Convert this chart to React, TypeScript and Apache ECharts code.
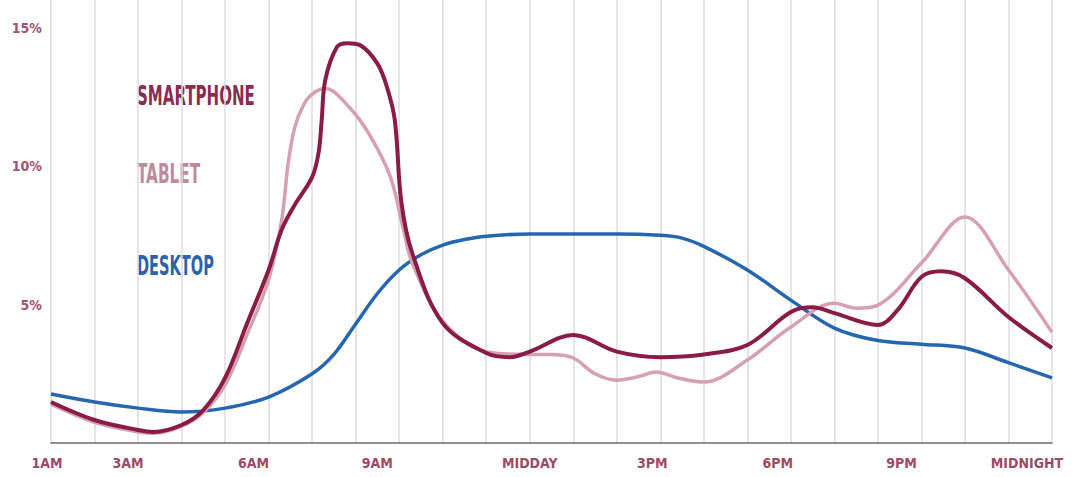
import React, { useEffect, useRef } from "react";
import * as echarts from "echarts";

const FONT = "'DejaVu Sans Condensed', 'Liberation Sans Narrow', sans-serif";

const xTickLabels: Record<number, string> = {
  1: "1AM", 3: "3AM", 6: "6AM", 9: "9AM", 12: "MIDDAY",
  15: "3PM", 18: "6PM", 21: "9PM", 24: "MIDNIGHT",
};
// horizontal nudge (px) of each hour label relative to its grid line
const xLabelShift: Record<number, number> = {
  1: -4, 3: -10, 6: -15, 9: -22, 12: 0, 15: -8, 18: -13, 21: -20, 24: -25,
};
const yTickLabels: Record<number, string> = { 5: "5%", 10: "10%", 15: "15%" };

const smartphoneHours = [1, 2, 3, 3.35, 4, 4.5, 5, 5.5, 6, 6.3, 6.6, 7.0, 7.15, 7.22, 7.3, 7.57, 7.8, 8.1, 8.5, 8.72, 8.9, 9.05, 9.3, 10, 11, 11.55, 12, 13, 14, 15, 16, 17, 18, 18.5, 19, 20, 20.45, 21, 21.45, 22, 23, 24];
const smartphoneValues = [1.48, 0.83, 0.47, 0.4, 0.65, 1.19, 2.35, 4.3, 6.25, 7.7, 8.6, 9.6, 10.5, 11.66, 13.1, 14.3, 14.44, 14.37, 13.7, 12.85, 11.66, 8.7, 6.86, 4.33, 3.25, 3.1, 3.3, 3.9, 3.3, 3.1, 3.2, 3.54, 4.73, 4.9, 4.69, 4.26, 4.8, 6.0, 6.2, 5.95, 4.55, 3.43];

const tabletHours = [1, 2, 3, 3.35, 4, 4.5, 5, 5.5, 6, 6.3, 6.45, 6.6, 6.8, 7.0, 7.3, 7.87, 8.33, 8.8, 9.1, 9.3, 10, 11, 12, 12.5, 13, 13.5, 14, 14.5, 14.9, 15.4, 16, 17, 18, 19, 19.5, 20, 21, 22, 23, 24];
const tabletValues = [1.4, 0.75, 0.4, 0.35, 0.6, 1.1, 2.1, 3.9, 5.9, 8.05, 10.1, 11.4, 12.2, 12.6, 12.8, 12.1, 11.1, 9.6, 7.7, 6.5, 4.4, 3.3, 3.2, 3.2, 3.07, 2.5, 2.27, 2.4, 2.56, 2.35, 2.2, 3.0, 4.19, 5.05, 4.87, 4.98, 6.5, 8.16, 6.25, 4.0];

const desktopHours = [1, 2, 3, 4, 5, 6, 7, 7.5, 8, 8.5, 9, 9.5, 10, 10.5, 11, 12, 13, 14, 15, 15.5, 16, 17, 18, 19, 20, 21, 22, 23, 24];
const desktopValues = [1.77, 1.48, 1.26, 1.12, 1.26, 1.66, 2.5, 3.2, 4.3, 5.4, 6.25, 6.8, 7.15, 7.35, 7.47, 7.55, 7.55, 7.55, 7.5, 7.4, 7.1, 6.25, 5.16, 4.15, 3.7, 3.57, 3.43, 2.9, 2.35];

const legendNames = ["SMARTPHONE", "TABLET", "DESKTOP"];

const zip = (xs: number[], ys: number[]) => xs.map((x, i) => [x, ys[i]]);

export default function App() {
  const ref = useRef<HTMLDivElement>(null);
  useEffect(() => {
    if (!ref.current) return;
    const chart = echarts.init(ref.current, undefined, { renderer: "svg" });
    const legendFont = `bold 27px ${FONT}`;
    const labelStyle = {
      color: "#9c4a66",
      fontFamily: FONT,
      fontWeight: "bold",
      fontSize: 14,
    };
    const rich: Record<string, any> = {};
    Object.keys(xLabelShift).forEach((k) => {
      const s = xLabelShift[Number(k)];
      rich["h" + k] = { ...labelStyle, padding: [0, Math.max(0, -2 * s), 0, Math.max(0, 2 * s)] };
    });
    chart.setOption({
      animation: false,
      backgroundColor: "#ffffff",
      grid: { left: 51, right: 39, top: 0, bottom: 34 },
      xAxis: {
        type: "value",
        min: 1,
        max: 24,
        interval: 1,
        axisLine: { show: true, lineStyle: { color: "#6e6a6c", width: 1.5 } },
        axisTick: { show: false },
        splitLine: { show: true, lineStyle: { color: "#d9dde3", width: 1.5 } },
        axisLabel: {
          formatter: (v: number) => (xTickLabels[v] ? `{h${v}|${xTickLabels[v]}}` : ""),
          ...labelStyle,
          margin: 13,
          rich,
          showMinLabel: true,
          showMaxLabel: true,
        },
      },
      yAxis: {
        type: "value",
        min: 0,
        max: 16,
        interval: 5,
        axisLine: { show: false },
        axisTick: { show: false },
        splitLine: { show: false },
        axisLabel: {
          formatter: (v: number) => yTickLabels[v] || "",
          color: "#a85272",
          fontFamily: FONT,
          fontWeight: "bold",
          fontSize: 14,
          margin: 9,
        },
      },
      series: [
        {
          name: "DESKTOP",
          type: "line",
          smooth: 0.35,
          symbol: "none",
          data: zip(desktopHours, desktopValues),
          lineStyle: { color: "#2566b0", width: 3.5 },
        },
        {
          name: "TABLET",
          type: "line",
          smooth: 0.35,
          symbol: "none",
          data: zip(tabletHours, tabletValues),
          lineStyle: { color: "#d6a0b0", width: 3.5 },
        },
        {
          name: "SMARTPHONE",
          type: "line",
          smooth: 0.35,
          symbol: "none",
          data: zip(smartphoneHours, smartphoneValues),
          lineStyle: { color: "#8a1a46", width: 4 },
        },
      ],
      graphic: [
        { type: "text", x: 137, y: 82, scaleX: 0.62, style: { text: legendNames[0], fill: "#8c2a50", font: legendFont } },
        { type: "text", x: 137, y: 160, scaleX: 0.63, style: { text: legendNames[1], fill: "#bb8c9c", font: legendFont } },
        { type: "text", x: 137, y: 252, scaleX: 0.6, style: { text: legendNames[2], fill: "#2f62a8", font: legendFont } },
      ],
    });
    return () => chart.dispose();
  }, []);
  return <div ref={ref} style={{ position: "fixed", left: 0, top: 0, width: 1091, height: 477 }} />;
}
